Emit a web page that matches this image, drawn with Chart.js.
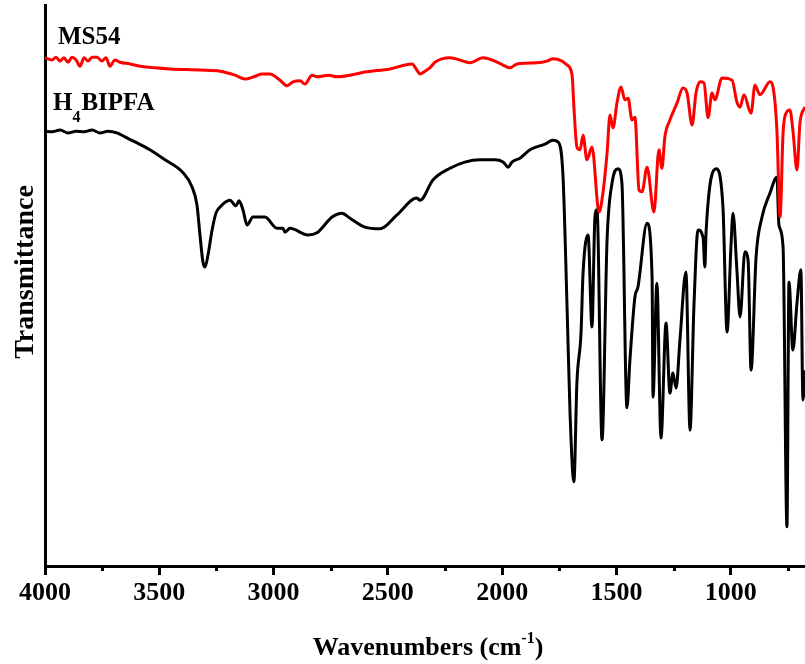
<!DOCTYPE html>
<html>
<head>
<meta charset="utf-8">
<title>FT-IR spectra</title>
<script src="https://cdn.jsdelivr.net/npm/chart.js@4.4.1/dist/chart.umd.min.js"></script>
<style>
    html, body { margin: 0; padding: 0; background: #fff; }
    #irChart { display: block; }
</style>
</head>
<body>
<canvas id="irChart" width="805" height="664"></canvas>
<script>
// --- Spectra (wavenumber in cm-1, transmittance in arbitrary %) ---
const ligandWavenumbers = [
    4000, 3969, 3934, 3899, 3864, 3829, 3794, 3759, 3724, 3685,
    3650, 3606, 3541, 3475, 3396, 3357, 3335, 3322, 3309, 3300,
    3287, 3269, 3252, 3234, 3191, 3164, 3151, 3134, 3116, 3090,
    3038, 2985, 2959, 2950, 2928, 2849, 2810, 2744, 2701, 2666,
    2600, 2534, 2460, 2373, 2359, 2303, 2228, 2163, 2097, 2031,
    1996, 1974, 1957, 1922, 1878, 1813, 1778, 1756, 1734, 1716,
    1703, 1686, 1673, 1655, 1646, 1624, 1607, 1594, 1585, 1563,
    1541, 1519, 1493, 1476, 1454, 1441, 1419, 1406, 1366, 1344,
    1340, 1323, 1305, 1283, 1266, 1253, 1239, 1222, 1196, 1178,
    1161, 1143, 1121, 1113, 1108, 1064, 1034, 1016, 999, 990,
    973, 959, 938, 924, 911, 889, 863, 828, 798, 789,
    771, 754, 745, 728, 710, 693, 684, 675
];
const ligandTransmittance = [
    77.5, 77.4, 77.7, 77.2, 77.5, 77.4, 77.7, 77.2, 77.5, 77.2,
    76.5, 75.6, 74.2, 72.4, 70.1, 67.6, 64.3, 59.0, 54.2, 53.3,
    55.4, 59.9, 62.9, 64.0, 65.2, 64.2, 65.1, 63.5, 60.8, 62.2,
    62.2, 60.2, 60.2, 59.5, 60.2, 59.0, 59.4, 62.2, 62.9, 62.0,
    60.4, 60.1, 62.6, 65.6, 65.2, 68.8, 70.9, 72.0, 72.4, 72.4,
    72.0, 71.1, 72.0, 72.7, 74.2, 75.2, 75.9, 75.6, 69.7, 46.2,
    27.3, 15.0, 32.6, 41.5, 52.2, 59.0, 42.6, 62.2, 63.5, 22.5,
    58.1, 68.3, 70.8, 68.3, 28.2, 36.7, 48.0, 49.7, 61.1, 51.5,
    30.1, 50.4, 22.8, 43.3, 30.8, 34.4, 31.7, 40.3, 52.4, 24.2,
    46.2, 59.9, 58.6, 53.3, 59.4, 70.8, 64.0, 41.7, 56.9, 62.9,
    52.8, 44.4, 56.0, 54.5, 34.9, 55.1, 62.2, 66.5, 69.3, 60.8,
    56.9, 7.0, 50.6, 38.5, 46.9, 52.8, 29.6, 34.9
];

const complexWavenumbers = [
    4000, 3969, 3952, 3934, 3917, 3899, 3882, 3864, 3847, 3829,
    3812, 3794, 3772, 3751, 3733, 3716, 3694, 3672, 3628, 3584,
    3519, 3453, 3322, 3234, 3169, 3125, 3081, 3051, 3016, 2972,
    2941, 2915, 2884, 2863, 2832, 2810, 2758, 2723, 2591, 2491,
    2394, 2373, 2359, 2338, 2316, 2294, 2228, 2171, 2141, 2084,
    2044, 1996, 1966, 1935, 1848, 1804, 1778, 1738, 1716, 1694,
    1686, 1673, 1659, 1646, 1629, 1607, 1576, 1559, 1541, 1528,
    1515, 1497, 1480, 1463, 1449, 1432, 1419, 1401, 1388, 1366,
    1336, 1314, 1301, 1288, 1266, 1235, 1209, 1191, 1169, 1152,
    1134, 1117, 1099, 1082, 1069, 1038, 994, 973, 959, 942,
    911, 894, 872, 828, 815, 798, 784, 771, 758, 741,
    728, 710, 697, 675
];
const complexTransmittance = [
    90.6, 90.2, 90.7, 90.0, 90.6, 89.8, 90.7, 90.2, 89.1, 90.6,
    90.0, 90.7, 90.7, 90.0, 90.6, 89.1, 90.2, 89.8, 89.5, 89.1,
    88.8, 88.6, 88.4, 88.2, 87.5, 86.8, 87.3, 87.7, 87.7, 86.6,
    85.6, 86.3, 86.5, 85.9, 87.5, 87.2, 87.5, 87.2, 88.1, 88.6,
    89.5, 88.4, 87.7, 88.2, 88.8, 89.8, 90.6, 90.0, 89.7, 90.6,
    90.2, 89.3, 88.8, 89.5, 89.7, 90.0, 90.4, 90.0, 89.3, 87.5,
    81.8, 74.7, 74.2, 76.8, 72.4, 74.7, 63.1, 66.5, 73.6, 80.4,
    78.1, 82.7, 85.4, 83.1, 83.4, 79.5, 80.0, 67.0, 66.7, 71.1,
    63.1, 74.2, 70.9, 76.5, 79.5, 82.5, 85.2, 84.3, 78.6, 84.3,
    86.3, 86.1, 79.9, 84.3, 83.1, 87.0, 86.6, 82.7, 81.8, 84.0,
    80.7, 85.7, 84.0, 86.3, 85.4, 77.7, 62.2, 77.2, 80.7, 81.3,
    77.7, 70.6, 79.0, 81.8
];

const tickValues = [4000, 3750, 3500, 3250, 3000, 2750, 2500, 2250, 2000, 1750, 1500, 1250, 1000, 750];
const serif = '"Liberation Serif", "Times New Roman", serif';

function toPoints(xs, ys) {
    return xs.map((x, i) => ({ x: x, y: ys[i] }));
}

// minor ticks are shorter than the labelled ones, so they are drawn here
const minorTicks = {
    id: 'minorTicks',
    afterDraw(chart) {
        const ctx = chart.ctx;
        const xs = chart.scales.x;
        const bottom = chart.chartArea.bottom;
        ctx.save();
        ctx.strokeStyle = '#000';
        ctx.lineWidth = 3;
        tickValues.filter(v => v % 500 !== 0).forEach(v => {
            const px = Math.round(xs.getPixelForValue(v)) + 0.5;
            ctx.beginPath();
            ctx.moveTo(px, bottom);
            ctx.lineTo(px, bottom + 5);
            ctx.stroke();
        });
        ctx.restore();
    }
};

// axis titles and sample names
const labels = {
    id: 'labels',
    afterDraw(chart) {
        const ctx = chart.ctx;
        ctx.save();
        ctx.fillStyle = '#000';
        ctx.textBaseline = 'alphabetic';

        // x title with superscript -1
        const big = 'bold 26px ' + serif;
        const small = 'bold 16px ' + serif;
        const part1 = 'Wavenumbers (cm';
        const sup = '-1';
        const part2 = ')';
        ctx.font = big;
        const w1 = ctx.measureText(part1).width;
        const w3 = ctx.measureText(part2).width;
        ctx.font = small;
        const w2 = ctx.measureText(sup).width;
        let x = 428 - (w1 + w2 + w3) / 2;
        const base = 655;
        ctx.font = big;
        ctx.fillText(part1, x, base);
        x += w1;
        ctx.font = small;
        ctx.fillText(sup, x, base - 12);
        x += w2;
        ctx.font = big;
        ctx.fillText(part2, x, base);

        // y title
        ctx.save();
        ctx.translate(33, 272);
        ctx.rotate(-Math.PI / 2);
        ctx.font = 'bold 28px ' + serif;
        ctx.textAlign = 'center';
        ctx.fillText('Transmittance', 0, 0);
        ctx.restore();

        // sample names
        ctx.font = 'bold 25px ' + serif;
        ctx.fillText('MS54', 58, 44);
        ctx.fillText('H', 53, 110);
        let hx = 53 + ctx.measureText('H').width;
        ctx.font = 'bold 16px ' + serif;
        ctx.fillText('4', hx, 122);
        hx += ctx.measureText('4').width + 1;
        ctx.font = 'bold 25px ' + serif;
        ctx.fillText('BIPFA', hx, 110);
        ctx.restore();
    }
};

const chart = new Chart(document.getElementById('irChart').getContext('2d'), {
    type: 'line',
    data: {
        datasets: [
            {
                label: 'MS54',
                data: toPoints(complexWavenumbers, complexTransmittance),
                borderColor: '#ff0000',
                borderWidth: 3,
                pointRadius: 0,
                cubicInterpolationMode: 'monotone',
                fill: false
            },
            {
                label: 'H4BIPFA',
                data: toPoints(ligandWavenumbers, ligandTransmittance),
                borderColor: '#000000',
                borderWidth: 3,
                pointRadius: 0,
                cubicInterpolationMode: 'monotone',
                fill: false
            }
        ]
    },
    options: {
        responsive: false,
        animation: false,
        layout: { padding: { top: 5, right: 0, bottom: 0, left: 0 } },
        plugins: {
            legend: { display: false },
            tooltip: { enabled: false }
        },
        scales: {
            x: {
                type: 'linear',
                reverse: true,
                min: 675,
                max: 4000,
                afterBuildTicks: (scale) => {
                    scale.ticks = tickValues.map(v => ({ value: v }));
                },
                afterFit: (scale) => { scale.height = 98; },
                border: { display: true, color: '#000', width: 3 },
                grid: {
                    display: true,
                    drawOnChartArea: false,
                    drawTicks: true,
                    tickLength: 9,
                    tickWidth: 3,
                    tickColor: (c) => (c.tick && c.tick.value % 500 === 0) ? '#000' : 'rgba(0,0,0,0)'
                },
                ticks: {
                    autoSkip: false,
                    maxRotation: 0,
                    padding: 3,
                    color: '#000',
                    font: { family: serif, size: 26, weight: 'bold' },
                    callback: (v) => (v % 500 === 0 ? String(v) : '')
                }
            },
            y: {
                min: 0,
                max: 100,
                afterFit: (scale) => { scale.width = 45; },
                border: { display: true, color: '#000', width: 3 },
                grid: { display: false },
                ticks: { display: false }
            }
        }
    },
    plugins: [minorTicks, labels]
});
</script>
</body>
</html>
